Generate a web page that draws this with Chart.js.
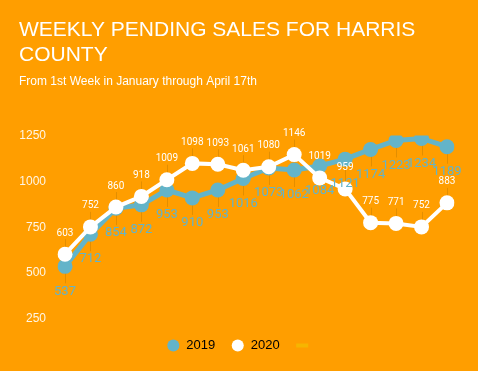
<!DOCTYPE html>
<html>
<head>
<meta charset="utf-8">
<script src="https://cdn.jsdelivr.net/npm/chart.js@4.4.1/dist/chart.umd.min.js"></script>
<style>
  html, body { margin: 0; padding: 0; background: #FF9E00; }
  #wrap { width: 478px; height: 371px; position: relative; }
</style>
</head>
<body>
<div id="wrap"><canvas id="c" width="478" height="371"></canvas></div>
<script>
const weeks = ['W1','W2','W3','W4','W5','W6','W7','W8','W9','W10','W11','W12','W13','W14','W15','W16'];
const sales2019 = [537, 712, 854, 872, 953, 910, 953, 1016, 1073, 1062, 1084, 1121, 1174, 1223, 1234, 1189];
const sales2020 = [603, 752, 860, 918, 1009, 1098, 1093, 1061, 1080, 1146, 1019, 959, 775, 771, 752, 883];
const yTicks = [250, 500, 750, 1000, 1250];

const BLUE = '#63B4C9';
const WHITE = '#FFFFFF';
const LEADER = '#E38E00';
const DASH = '#F6B500';

const labelPlugin = {
  id: 'pointLabels',
  afterLayout(chart) {
    if (chart.legend) {
      chart.legend.left += 8;
      chart.legend.right += 8;
    }
  },
  beforeDatasetsDraw(chart) {
    const ctx = chart.ctx;
    ctx.save();
    ctx.strokeStyle = LEADER;
    ctx.lineWidth = 1;
    const m20 = chart.getDatasetMeta(1);
    const m19 = chart.getDatasetMeta(0);
    m20.data.forEach(p => {
      ctx.beginPath();
      ctx.moveTo(Math.round(p.x) + 0.5, p.y - 15);
      ctx.lineTo(Math.round(p.x) + 0.5, p.y);
      ctx.stroke();
    });
    m19.data.forEach(p => {
      ctx.beginPath();
      ctx.moveTo(Math.round(p.x) + 0.5, p.y);
      ctx.lineTo(Math.round(p.x) + 0.5, p.y + 17);
      ctx.stroke();
    });
    ctx.restore();
  },
  afterDatasetsDraw(chart) {
    const ctx = chart.ctx;
    ctx.save();
    ctx.textAlign = 'center';
    ctx.textBaseline = 'middle';
    const m19 = chart.getDatasetMeta(0);
    ctx.font = '13px Roboto';
    ctx.fillStyle = BLUE;
    m19.data.forEach((p, i) => {
      ctx.fillText(String(sales2019[i]), p.x, p.y + 25);
    });
    const m20 = chart.getDatasetMeta(1);
    ctx.font = '10px Roboto';
    ctx.fillStyle = WHITE;
    m20.data.forEach((p, i) => {
      ctx.fillText(String(sales2020[i]), p.x, p.y - 21);
    });
    ctx.restore();
  }
};

new Chart(document.getElementById('c'), {
  type: 'line',
  data: {
    labels: weeks,
    datasets: [
      {
        label: '2019',
        data: sales2019,
        borderColor: BLUE,
        backgroundColor: BLUE,
        borderWidth: 5,
        pointRadius: 7.5,
        pointHoverRadius: 7.5,
        pointBackgroundColor: BLUE,
        pointBorderWidth: 0,
        tension: 0,
        order: 2
      },
      {
        label: '2020',
        data: sales2020,
        borderColor: WHITE,
        backgroundColor: WHITE,
        borderWidth: 4,
        pointRadius: 7.5,
        pointHoverRadius: 7.5,
        pointBackgroundColor: WHITE,
        pointBorderWidth: 0,
        tension: 0,
        order: 1
      }
    ]
  },
  options: {
    responsive: false,
    animation: false,
    events: [],
    layout: { padding: { left: 19, right: 31, top: 0, bottom: 9 } },
    scales: {
      x: {
        display: true,
        grid: { display: false },
        border: { display: false },
        ticks: { display: false },
        afterFit(s) { s.height = 4; }
      },
      y: {
        min: 250,
        max: 1250,
        afterBuildTicks(s) { s.ticks = yTicks.map(v => ({ value: v })); },
        grid: { display: false },
        border: { display: false },
        ticks: {
          color: 'rgba(255,255,255,0.9)',
          font: { family: 'Liberation Sans', size: 12 },
          padding: 11,
          callback: v => String(v)
        },
        afterFit(s) { s.width = 46; }
      }
    },
    plugins: {
      tooltip: { enabled: false },
      title: {
        display: true,
        text: ['WEEKLY PENDING SALES FOR HARRIS', 'COUNTY'],
        align: 'start',
        color: WHITE,
        font: { family: 'Liberation Sans', size: 21, weight: 'normal', lineHeight: 1.15 },
        padding: { top: 18.5, bottom: 0 }
      },
      subtitle: {
        display: true,
        text: 'From 1st Week in January through April 17th',
        align: 'start',
        color: WHITE,
        font: { family: 'Liberation Sans', size: 12, weight: 'normal', lineHeight: 1.2 },
        padding: { top: 7.3, bottom: 47 }
      },
      legend: {
        display: true,
        position: 'bottom',
        labels: {
          usePointStyle: true,
          boxHeight: 8.5,
          boxWidth: 13,
          padding: 16,
          color: 'rgba(255,255,255,0.95)',
          font: { family: 'Liberation Sans', size: 13 },
          generateLabels() {
            return [
              { text: '2019', fillStyle: BLUE, strokeStyle: BLUE, lineWidth: 0, pointStyle: 'circle', datasetIndex: 0 },
              { text: '2020', fillStyle: WHITE, strokeStyle: WHITE, lineWidth: 0, pointStyle: 'circle', datasetIndex: 1 },
              { text: '', fillStyle: DASH, strokeStyle: DASH, lineWidth: 4, pointStyle: 'line' }
            ];
          }
        }
      }
    }
  },
  plugins: [labelPlugin]
});
</script>
</body>
</html>
